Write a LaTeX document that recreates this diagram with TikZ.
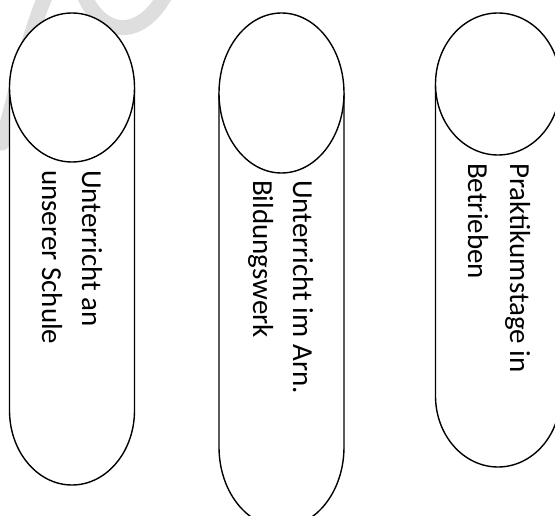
\documentclass[tikz,border=0pt]{standalone}
\usepackage{fontspec}
\setmainfont{Carlito}
\begin{document}
\begin{tikzpicture}[x=1pt,y=1pt,
  can/.style={draw=black, line width=1.4pt, fill=white},
  label/.style={rotate=-90, anchor=base west, inner sep=0pt,
    font=\fontsize{29}{40}\selectfont, text=black},
  watermark/.style={draw=black!13, line width=15pt, line cap=round}]
  \useasboundingbox (0,0) rectangle (555,515);
  \clip (0,0) rectangle (555,515);
  \fill[white] (0,0) rectangle (555,515);

  % faint background mark
  \draw[watermark] (2,372) .. controls (18,430) and (28,480) .. (48,525);
  \draw[watermark] (82,525) .. controls (98,480) and (140,470) .. (168,525);

  % left can: Unterricht an unserer Schule
  \draw[can] (9.5,427.5) -- (9.5,104.5) arc[start angle=180, end angle=360,
    x radius=62.5, y radius=74.5] -- (134.5,427.5);
  \draw[can] (72,427.5) ellipse[x radius=62.5, y radius=74.5];
  \node[label] (a1) at (82,345) {Unterricht an};
  \node[label] (a2) at (42,345) {unserer Schule};

  % middle can: Unterricht im Arn. Bildungswerk
  \draw[can] (219,422) -- (219,68) arc[start angle=180, end angle=360,
    x radius=62.5, y radius=80] -- (344,422);
  \draw[can] (281.5,422) ellipse[x radius=62.5, y radius=80];
  \node[label] (b1) at (293,335) {Unterricht im Arn.};
  \node[label] (b2) at (253,335) {Bildungswerk};

  % right can: Praktikumstage in Betrieben
  \draw[can] (435.5,431) -- (435.5,119) arc[start angle=180, end angle=360,
    x radius=62.5, y radius=71] -- (560.5,431);
  \draw[can] (498,431) ellipse[x radius=62.5, y radius=71];
  \node[label] (c1) at (510,352) {Praktikumstage in};
  \node[label] (c2) at (468,352) {Betrieben};
\end{tikzpicture}
\end{document}
